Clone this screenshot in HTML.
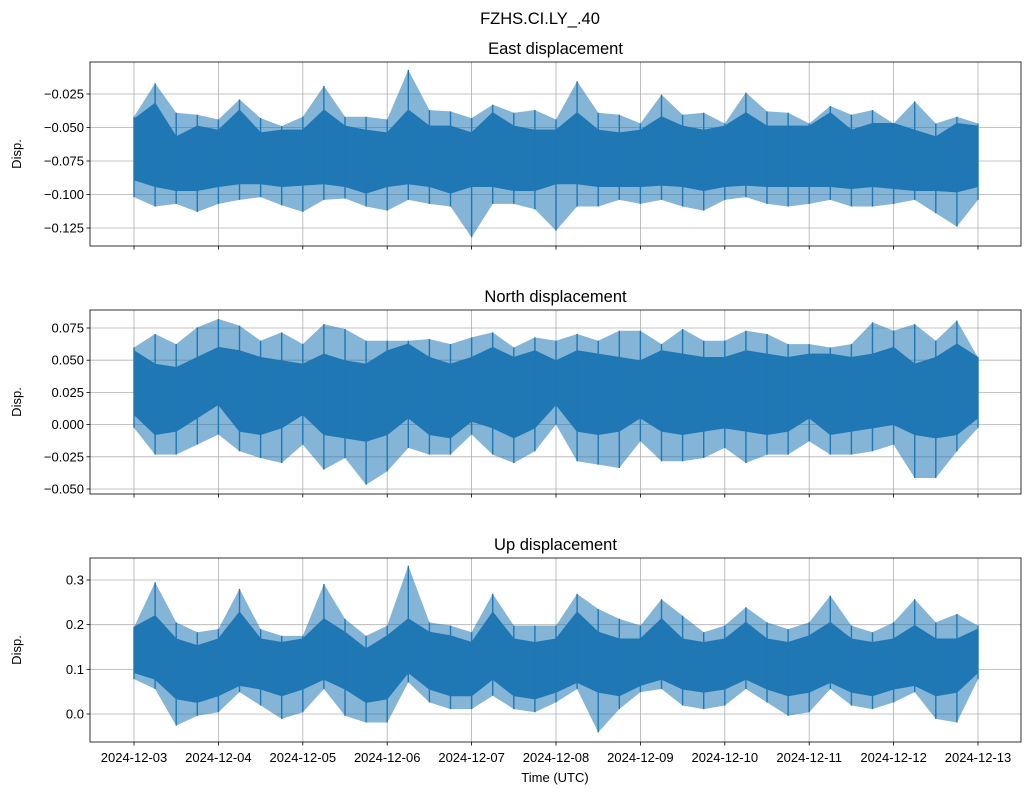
<!DOCTYPE html>
<html><head><meta charset="utf-8">
<style>
html,body{margin:0;padding:0;background:#fff;}
svg{display:block;font-family:"Liberation Sans","DejaVu Sans",sans-serif;}
</style></head>
<body>
<svg id="chart" width="1030" height="795" viewBox="0 0 1030 795" xmlns="http://www.w3.org/2000/svg">
<text x="540" y="24" font-size="16.5" text-anchor="middle">FZHS.CI.LY_.40</text>
</svg>
<script>
const dayLabels = ["2024-12-03","2024-12-04","2024-12-05","2024-12-06","2024-12-07","2024-12-08","2024-12-09","2024-12-10","2024-12-11","2024-12-12","2024-12-13"];
// samples every quarter day, 41 points
const eastInnerHi = [-0.044,-0.032,-0.057,-0.049,-0.052,-0.037,-0.054,-0.052,-0.052,-0.037,-0.049,-0.052,-0.054,-0.037,-0.049,-0.049,-0.054,-0.039,-0.049,-0.052,-0.052,-0.039,-0.052,-0.054,-0.052,-0.042,-0.049,-0.052,-0.049,-0.039,-0.049,-0.049,-0.049,-0.039,-0.052,-0.047,-0.047,-0.052,-0.057,-0.047,-0.049];
const eastOuterHi = [-0.042,-0.017,-0.039,-0.0405,-0.044,-0.029,-0.043,-0.049,-0.042,-0.019,-0.042,-0.042,-0.044,-0.007,-0.037,-0.038,-0.043,-0.033,-0.039,-0.037,-0.044,-0.0155,-0.039,-0.0405,-0.047,-0.0255,-0.0405,-0.039,-0.047,-0.024,-0.038,-0.039,-0.047,-0.034,-0.0405,-0.037,-0.047,-0.0305,-0.047,-0.042,-0.047];
const eastInnerLo = [-0.089,-0.094,-0.097,-0.097,-0.094,-0.092,-0.092,-0.094,-0.093,-0.092,-0.094,-0.099,-0.094,-0.092,-0.094,-0.099,-0.094,-0.094,-0.097,-0.097,-0.092,-0.092,-0.094,-0.094,-0.094,-0.093,-0.094,-0.097,-0.094,-0.093,-0.094,-0.094,-0.094,-0.094,-0.0955,-0.094,-0.0955,-0.097,-0.097,-0.098,-0.094];
const eastOuterLo = [-0.102,-0.109,-0.107,-0.113,-0.107,-0.104,-0.102,-0.108,-0.113,-0.104,-0.103,-0.109,-0.112,-0.104,-0.107,-0.109,-0.132,-0.107,-0.107,-0.111,-0.127,-0.109,-0.109,-0.104,-0.107,-0.104,-0.109,-0.112,-0.104,-0.102,-0.107,-0.109,-0.107,-0.104,-0.109,-0.109,-0.107,-0.104,-0.114,-0.124,-0.104];
const northInnerHi = [0.0573,0.0469,0.0443,0.0521,0.0599,0.0573,0.0521,0.0495,0.0469,0.0547,0.0495,0.0469,0.0573,0.0625,0.0521,0.0469,0.0521,0.0599,0.0521,0.0573,0.0495,0.0573,0.0547,0.0521,0.0495,0.0573,0.0547,0.0521,0.0521,0.0573,0.0547,0.0521,0.0547,0.0547,0.0521,0.0547,0.0599,0.0469,0.0521,0.0625,0.0521];
const northOuterHi = [0.0599,0.0703,0.0625,0.0755,0.082,0.0768,0.0651,0.0716,0.0625,0.078,0.0742,0.0651,0.0651,0.0651,0.0664,0.0625,0.0677,0.0716,0.0599,0.0677,0.0651,0.0703,0.0651,0.0729,0.0729,0.0625,0.0742,0.0651,0.0651,0.0729,0.0703,0.0625,0.0625,0.0599,0.0625,0.0794,0.0729,0.078,0.0651,0.0807,0.0521];
const northInnerLo = [0.0079,-0.0077,-0.0051,0.0053,0.0157,-0.0051,-0.0077,-0.0025,0.0079,-0.0077,-0.0103,-0.0129,-0.0077,0.0053,-0.0077,-0.0103,0.0027,-0.0025,-0.0103,-0.0025,0.0157,-0.0051,-0.0077,-0.0051,0.0053,-0.0051,-0.0077,-0.0051,-0.0025,-0.0051,-0.0077,-0.0051,0.0053,-0.0077,-0.0051,-0.0025,0.0001,-0.0077,-0.0103,-0.0077,0.0053];
const northOuterLo = [-0.0025,-0.0233,-0.0233,-0.0155,-0.0077,-0.0207,-0.0259,-0.0298,-0.0155,-0.035,-0.0259,-0.0467,-0.0363,-0.0181,-0.0233,-0.0233,-0.0077,-0.0233,-0.0298,-0.0207,0.0001,-0.0285,-0.0311,-0.0337,-0.0129,-0.0285,-0.0285,-0.0259,-0.0181,-0.0298,-0.0233,-0.0233,-0.0129,-0.0233,-0.0233,-0.0207,-0.0155,-0.0415,-0.0415,-0.0207,-0.0025];
const upInnerHi = [0.194,0.220,0.168,0.153,0.168,0.228,0.168,0.160,0.168,0.213,0.183,0.146,0.175,0.213,0.183,0.175,0.160,0.228,0.168,0.160,0.168,0.228,0.183,0.168,0.168,0.213,0.168,0.160,0.168,0.205,0.168,0.160,0.175,0.205,0.168,0.160,0.168,0.198,0.168,0.168,0.190];
const upOuterHi = [0.194,0.295,0.205,0.183,0.190,0.280,0.190,0.175,0.175,0.291,0.213,0.175,0.198,0.332,0.205,0.198,0.183,0.269,0.198,0.198,0.198,0.269,0.235,0.213,0.198,0.257,0.220,0.183,0.198,0.239,0.205,0.190,0.205,0.265,0.198,0.183,0.205,0.257,0.205,0.224,0.198];
const upInnerLo = [0.093,0.078,0.034,0.026,0.041,0.064,0.056,0.041,0.056,0.078,0.056,0.026,0.034,0.093,0.056,0.041,0.041,0.078,0.041,0.034,0.049,0.071,0.049,0.041,0.064,0.078,0.056,0.049,0.056,0.078,0.056,0.041,0.049,0.071,0.049,0.041,0.056,0.064,0.041,0.049,0.093];
const upOuterLo = [0.078,0.056,-0.026,-0.004,0.004,0.049,0.019,-0.011,0.004,0.056,-0.004,-0.019,-0.019,0.071,0.026,0.011,0.011,0.041,0.011,0.004,0.026,0.056,-0.041,0.011,0.049,0.056,0.019,0.011,0.019,0.056,0.026,-0.004,0.004,0.056,0.019,0.011,0.026,0.049,-0.011,-0.019,0.078];
const eastTicks = [-0.025,-0.050,-0.075,-0.100,-0.125];
const northTicks = [0.075,0.050,0.025,0.000,-0.025,-0.050];
const upTicks = [0.3,0.2,0.1,0.0];

const NS = "http://www.w3.org/2000/svg";
const svg = document.getElementById('chart');
function mk(tag, attrs, parent){ const e=document.createElementNS(NS,tag); for(const k in attrs) e.setAttribute(k,attrs[k]); (parent||svg).appendChild(e); return e; }
const X0=134, DAYPX=84.4;
function xScale(i){ return X0 + (i/4)*DAYPX; }

const panels = [
 {name:'east', title:'East displacement', top:62, ref:-0.025, refY:94, ppu:1340, ticks:eastTicks, dec:3, ih:eastInnerHi, oh:eastOuterHi, il:eastInnerLo, ol:eastOuterLo},
 {name:'north', title:'North displacement', top:310, ref:0.075, refY:328, ppu:1288, ticks:northTicks, dec:3, ih:northInnerHi, oh:northOuterHi, il:northInnerLo, ol:northOuterLo},
 {name:'up', title:'Up displacement', top:558, ref:0.3, refY:580, ppu:446.7, ticks:upTicks, dec:1, ih:upInnerHi, oh:upOuterHi, il:upInnerLo, ol:upOuterLo}
];
const L=90, R=1021, H=184, BLUE='#1f77b4';
function fmt(v,d){ const s=Math.abs(v).toFixed(d); return (v<0?'\u2212':'')+s; }

panels.forEach((p,pi)=>{
  const g = mk('g',{});
  
  
  const y = v => p.refY + (p.ref - v)*p.ppu;
  const clipId='clip'+pi;
  const cp=mk('clipPath',{id:clipId},g); mk('rect',{x:L,y:p.top,width:R-L,height:H},cp);
  dayLabels.forEach((d,i)=>{
    const gx = X0+i*DAYPX;
    const gl = mk('line',{x1:gx,x2:gx,y1:p.top,y2:p.top+H,stroke:'#b0b0b0','stroke-width':0.8},g);
    
    
    mk('line',{x1:gx,x2:gx,y1:p.top+H,y2:p.top+H+3.5,stroke:'#000','stroke-width':0.8},g);
    if(pi===2){
      const t = mk('text',{x:gx,y:p.top+H+20,'font-size':13,'text-anchor':'middle'},g);
      
      
      t.textContent=d;
    }
  });
  p.ticks.forEach(v=>{
    const ty=y(v);
    const gl = mk('line',{x1:L,x2:R,y1:ty,y2:ty,stroke:'#b0b0b0','stroke-width':0.8},g);
    
    
    mk('line',{x1:L-3.5,x2:L,y1:ty,y2:ty,stroke:'#000','stroke-width':0.8},g);
    const t = mk('text',{x:L-6,y:ty+4.5,'font-size':13,'text-anchor':'end'},g);
    
    
    t.textContent=fmt(v,p.dec);
  });
  const dg = mk('g',{'clip-path':'url(#'+clipId+')'},g);
  
  
  let pts=[];
  p.oh.forEach((v,i)=>pts.push(xScale(i)+','+y(v)));
  for(let i=p.ol.length-1;i>=0;i--) pts.push(xScale(i)+','+y(p.ol[i]));
  mk('polygon',{points:pts.join(' '),fill:BLUE,'fill-opacity':0.55},dg);
  pts=[];
  p.ih.forEach((v,i)=>pts.push(xScale(i)+','+y(v)));
  for(let i=p.il.length-1;i>=0;i--) pts.push(xScale(i)+','+y(p.il[i]));
  const band = mk('polygon',{points:pts.join(' '),fill:BLUE,stroke:BLUE,'stroke-width':1},dg);
  
  
  p.oh.forEach((v,i)=>{
    const s = mk('line',{x1:xScale(i),x2:xScale(i),y1:y(v),y2:y(p.ol[i]),stroke:BLUE,'stroke-width':1.4},dg);
    
    
  });
  const fr = mk('rect',{x:L,y:p.top,width:R-L,height:H,fill:'none',stroke:'#000','stroke-width':0.8},g);
  
  
  const tt = mk('text',{x:(L+R)/2,y:p.top-8,'font-size':16.5,'text-anchor':'middle'},g);
  
  
  tt.textContent=p.title;
  const yl = mk('text',{x:0,y:0,'font-size':13,'text-anchor':'middle',transform:'translate(21,'+(p.top+H/2)+') rotate(-90)'},g);
  
  
  yl.textContent='Disp.';
});
const xl = mk('text',{x:555,y:782,'font-size':13,'text-anchor':'middle'});


xl.textContent='Time (UTC)';
</script>
</body></html>
